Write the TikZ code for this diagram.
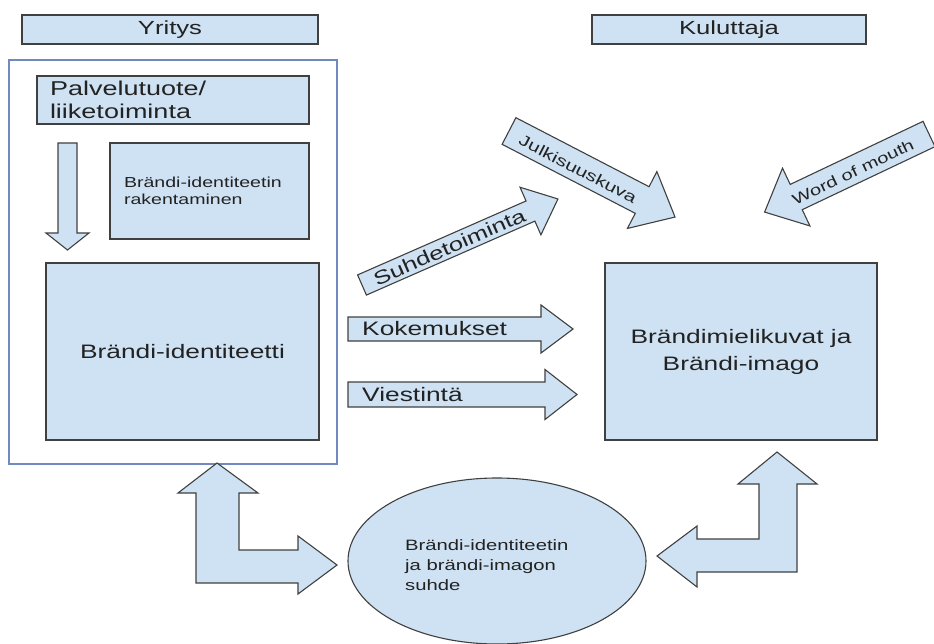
\documentclass[tikz,border=0pt]{standalone}
\usepackage{fontspec}
\setmainfont{Liberation Sans}[FakeStretch=1.35]
\usetikzlibrary{shapes}
\definecolor{boxblue}{RGB}{207,226,243}
\definecolor{boxline}{RGB}{64,64,64}
\definecolor{frameblue}{RGB}{112,138,192}
\definecolor{ink}{RGB}{34,34,34}
\tikzset{
    cell/.style = {rectangle, draw=boxline, line width=1.1pt, fill=boxblue, inner sep=0pt, text=ink},
    headcell/.style = {cell, font=\fontsize{19}{23}\selectfont},
    bigcell/.style = {cell, align=center, font=\fontsize{19.5}{27}\selectfont},
    framecell/.style = {rectangle, draw=frameblue, line width=1.1pt, inner sep=0pt},
    blob/.style = {ellipse, draw=boxline, line width=1.1pt, fill=boxblue, inner sep=0pt, align=left, text=ink, font=\fontsize{15}{20}\selectfont},
    barrow/.style = {draw=boxline, line width=1.1pt, fill=boxblue, line join=miter},
    lblbig/.style = {text=ink, inner sep=0pt, font=\fontsize{19.5}{23}\selectfont},
    lblsmall/.style = {text=ink, inner sep=0pt, font=\fontsize{15}{18}\selectfont}
}
% straight block arrow: name, tail, angle, length, shaft half, head half, head length
\newcommand{\blockarrow}[7]{%
  \begin{scope}[shift={#2},rotate=#3]
    \draw[barrow] (0,-#5) -- (#4-#7,-#5) -- (#4-#7,-#6) -- (#4,0)
      -- (#4-#7,#6) -- (#4-#7,#5) -- (0,#5) -- cycle;
    \coordinate (#1) at (#4,0);
  \end{scope}}

\begin{document}
\begin{tikzpicture}[x=1pt,y=-1pt]
\useasboundingbox (0,0) rectangle (934,644);
%
\node[headcell, minimum width=296pt, minimum height=29pt] at (170, 29.5) (yritys) {Yritys};
\node[headcell, minimum width=274pt, minimum height=29pt] at (729, 29.5) (kuluttaja) {Kuluttaja};
\node[framecell, minimum width=328pt, minimum height=404pt] at (173, 262) (yframe) {};
%
\node[cell, minimum width=272pt, minimum height=48pt, text width=246pt, align=left,
      font=\fontsize{20}{23}\selectfont] at (173, 100) (palvelu) {Palvelutuote/\\liiketoiminta};
\node[cell, minimum width=199pt, minimum height=96pt, text width=171pt, align=left,
      font=\fontsize{14.5}{16.5}\selectfont] at (209.5, 191) (rakent) {Brändi-identiteetin\\rakentaminen};
\blockarrow{alas}{(67.5,143)}{-90}{107}{9.5}{21.5}{17}
\node[bigcell, minimum width=273pt, minimum height=177pt] at (182.5, 351.5) (identiteetti) {Brändi-identiteetti};
\node[bigcell, minimum width=272pt, minimum height=177pt] at (741, 351.5) (imago) {Brändimielikuvat ja\\Brändi-imago};
%
\blockarrow{suhdet}{(362,285)}{23.7}{214}{11}{26}{30}
\node[lblbig, rotate=23.7, font=\fontsize{19}{23}\selectfont] at (449.5, 247) (suhdelbl) {Suhdetoiminta};
\blockarrow{julki}{(509,131)}{-27.4}{187}{15}{32}{37}
\node[lblsmall, rotate=-27.4, font=\fontsize{15.5}{18}\selectfont] at (578, 169) (julkilbl) {Julkisuuskuva};
\blockarrow{wom}{(929,134)}{205.4}{182}{14}{32}{35}
\node[lblsmall, rotate=25.4] at (853, 172) (womlbl) {Word of mouth};
\blockarrow{koke}{(348,329)}{0}{225}{12}{24}{32}
\node[lblbig, anchor=west] at (362, 329) (kokelbl) {Kokemukset};
\blockarrow{viesti}{(348,394.5)}{0}{229}{12.5}{25}{32}
\node[lblbig, anchor=west] at (362, 394.5) (viestilbl) {Viestintä};
%
\node[blob, minimum width=298pt, minimum height=166pt] at (497, 561) (suhde) {};
\node[text=ink, inner sep=0pt, align=left, font=\fontsize{15}{20}\selectfont, anchor=west] at (405, 565) (suhdelbl2) {Brändi-identiteetin\\ja brändi-imagon\\suhde};
%
\draw[barrow] (217,463) -- (258,493) -- (239,493) -- (239,550) -- (298,550) -- (298,536) -- (337,565)
  -- (298,594) -- (298,583) -- (196,583) -- (196,493) -- (178,493) -- cycle;
\draw[barrow] (777,452) -- (817,484) -- (797,484) -- (797,572) -- (697,572) -- (697,587) -- (657,556)
  -- (697,526) -- (697,539) -- (759,539) -- (759,484) -- (738,484) -- cycle;

\end{tikzpicture}
\end{document}
